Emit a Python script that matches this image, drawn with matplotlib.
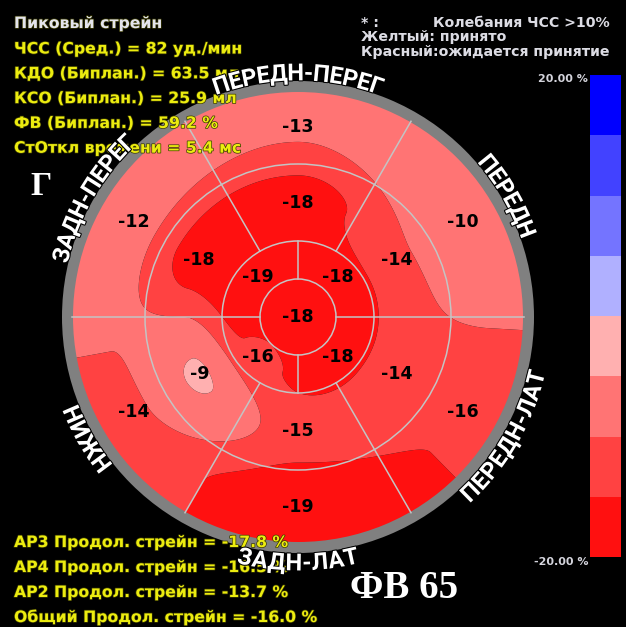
import numpy as np
import matplotlib.pyplot as plt
import matplotlib.patheffects as pe
from matplotlib.patches import Circle, Wedge
from matplotlib.colors import ListedColormap, BoundaryNorm
from matplotlib.cm import ScalarMappable
from matplotlib.font_manager import FontProperties
from matplotlib.textpath import TextToPath

# peak longitudinal strain per segment, %
seg_angles = [90, 30, -30, -90, 210, 150]
basal_vals = [-13, -10, -16, -19, -14, -12]
mid_vals = [-18, -14, -14, -15, -9, -18]
apical_angles = [45, 135, 225, 315]
apical_vals = [-18, -19, -16, -18]
apex_val = -18
wall_names = ["ПЕРЕДН-ПЕРЕГ", "ПЕРЕДН", "ПЕРЕДН-ЛАТ", "ЗАДН-ЛАТ", "НИЖН", "ЗАДН-ПЕРЕГ"]

title = "Пиковый стрейн"
info_lines = ["ЧСС (Сред.) = 82 уд./мин",
              "КДО (Биплан.) = 63.5 мл",
              "КСО (Биплан.) = 25.9 мл",
              "ФВ (Биплан.) = 59.2 %",
              "СтОткл времени = 5.4 мс"]
note_lines = [("* :", "Колебания ЧСС >10%"), ("Желтый: принято", ""), ("Красный:ожидается принятие", "")]
views = ["АР3", "АР4", "АР2"]
view_strain = [-17.8, -16.5, -13.7]
global_strain = -16.0

scale_bounds = [-20, -15, -10, -5, 0, 5, 10, 15, 20]
scale_colors = ["#ff1010", "#ff4242", "#ff7474", "#ffb0b0",
                "#b0b0ff", "#7474ff", "#4242ff", "#0000ff"]
fill_bounds = [-100, -16.5, -13.5, -9.5, 0, 100]

W, H = 626, 627
cx, cy = 298, 317
R_APEX, R_APICAL, R_MID, R_FIELD = 38, 76, 153, 226

fig = plt.figure(figsize=(W / 100, H / 100), dpi=100, facecolor="black")
ax = fig.add_axes([0, 0, 1, 1])
ax.set_xlim(0, W)
ax.set_ylim(H, 0)
ax.axis("off")


def polar(r, ang):
    a = np.radians(ang)
    return cx + r * np.cos(a), cy - r * np.sin(a)


def smooth(t):
    t = np.clip(t, 0, 1)
    return t * t * (3 - 2 * t)


def ring_profile(theta, angles, vals):
    # periodic smooth blend between neighbouring segment centres
    order = np.argsort(np.mod(angles, 360))
    a = np.mod(np.array(angles, float), 360)[order]
    v = np.array(vals, float)[order]
    a = np.concatenate([a[-1:] - 360, a, a[:1] + 360])
    v = np.concatenate([v[-1:], v, v[:1]])
    th = np.mod(theta, 360)
    idx = np.searchsorted(a, th) - 1
    idx = np.clip(idx, 0, len(a) - 2)
    t = (th - a[idx]) / (a[idx + 1] - a[idx])
    return v[idx] + (v[idx + 1] - v[idx]) * smooth(t)


# strain map on a polar-aware grid
g = np.linspace(-230, 230, 700)
GX, GY = np.meshgrid(g, g)
RR = np.hypot(GX, GY)
TH = np.degrees(np.arctan2(GY, GX))
ring_r = [0, 57, 114, 190]
profiles = [np.full_like(RR, apex_val),
            ring_profile(TH, apical_angles, apical_vals),
            ring_profile(TH, seg_angles, mid_vals),
            ring_profile(TH, seg_angles, basal_vals)]
Z = profiles[-1].copy()
for k in range(len(ring_r) - 1):
    inside = (RR >= ring_r[k]) & (RR < ring_r[k + 1])
    t = smooth((RR - ring_r[k]) / (ring_r[k + 1] - ring_r[k]))
    Z[inside] = (profiles[k] + (profiles[k + 1] - profiles[k]) * t)[inside]
Z = np.ma.masked_where(RR > 229, Z)
ax.contourf(cx + GX, cy - GY, Z, levels=fill_bounds, colors=scale_colors[:5], antialiased=True)

# segment grid
line_kw = dict(color="#c4c4c4", lw=1.1)
for r in (R_APEX, R_APICAL, R_MID):
    ax.add_patch(Circle((cx, cy), r, fill=False, ec="#c4c4c4", lw=1.1))
for ang in range(0, 360, 60):
    x0, y0 = polar(R_APICAL, ang)
    x1, y1 = polar(R_FIELD, ang)
    ax.plot([x0, x1], [y0, y1], **line_kw)
for ang in range(0, 360, 90):
    x0, y0 = polar(R_APEX, ang)
    x1, y1 = polar(R_APICAL, ang)
    ax.plot([x0, x1], [y0, y1], **line_kw)
ax.add_patch(Wedge((cx, cy), 236, 0, 360, width=11, fc="#808080", ec="none"))

# segment values
num_kw = dict(ha="center", va="center", fontsize=12.5, fontweight="bold", color="black")
for ang, v in zip(seg_angles, basal_vals):
    ax.text(*polar(190, ang), f"{v}", **num_kw)
for ang, v in zip(seg_angles, mid_vals):
    ax.text(*polar(114, ang), f"{v}", **num_kw)
for ang, v in zip(apical_angles, apical_vals):
    ax.text(*polar(57, ang), f"{v}", **num_kw)
ax.text(cx, cy, f"{apex_val}", **num_kw)

# text blocks
yellow = "#ecec10"
glow = [pe.withStroke(linewidth=1.0, foreground="#3a3a00")]
txt_kw = dict(fontsize=11.3, fontweight="bold", va="baseline", ha="left", path_effects=glow)
ax.text(14, 28, title, color="#e4e4ec", **txt_kw)
for i, s in enumerate(info_lines):
    ax.text(14, 53.5 + i * 24.8, s, color=yellow, **txt_kw)

for i, s in enumerate(views):
    ax.text(14, 547 + i * 25, f"{s} Продол. стрейн = {view_strain[i]:.1f} %", color=yellow, **txt_kw)
ax.text(14, 622, f"Общий Продол. стрейн = {global_strain:.1f} %", color=yellow, **txt_kw)

note_kw = dict(fontsize=10.2, fontweight="bold", va="baseline", ha="left", color="#dcdce4")
for i, (a, b) in enumerate(note_lines):
    ax.text(361, 27 + i * 14.3, a, **note_kw)
    if b:
        ax.text(433, 27 + i * 14.3, b, **note_kw)

# wall names bent along the rim
wall_font = FontProperties(family="Roboto", weight="bold", size=17)
ttp = TextToPath()
px = 100 / 72


def arc_label(name, ang, r_mid, outward):
    ext = [0.0] + [ttp.get_text_width_height_descent(name[:i], wall_font, False)[0] * px
                   for i in range(1, len(name) + 1)]
    total = ext[-1]
    cap = 0.711 * 17 * px
    r_base = r_mid - cap / 2 if outward else r_mid + cap / 2
    for i, ch in enumerate(name):
        s = (ext[i] + ext[i + 1]) / 2 - total / 2
        dth = np.degrees(s / r_mid)
        th = ang - dth if outward else ang + dth
        rot = th - 90 if outward else th + 90
        ax.text(*polar(r_base, th), ch, fontproperties=wall_font, color="white",
                ha="center", va="baseline", rotation=rot, rotation_mode="anchor",
                path_effects=[pe.withStroke(linewidth=1.5, foreground="black")])


for name, ang in zip(wall_names, seg_angles):
    arc_label(name, ang, 245, np.sin(np.radians(ang)) > 0)

# big serif marks
ax.text(30, 195, "Г", fontsize=24, fontweight="bold", family="Liberation Serif",
        color="white", ha="left", va="baseline")
ax.text(350, 598, "ФВ 65", fontsize=28, fontweight="bold", family="Liberation Serif",
        color="white", ha="left", va="baseline")

# colour scale
cax = fig.add_axes([590 / W, 1 - 557 / H, 31 / W, 482 / H])
sm = ScalarMappable(norm=BoundaryNorm(scale_bounds, len(scale_colors)), cmap=ListedColormap(scale_colors))
cb = fig.colorbar(sm, cax=cax)
cb.outline.set_visible(False)
cb.set_ticks([])
lab_kw = dict(fontsize=8, fontweight="bold", color="#d4d4dc", ha="right", va="baseline")
ax.text(588, 82, f"{scale_bounds[-1]:.2f} %", **lab_kw)
ax.text(588, 565, f"{scale_bounds[0]:.2f} %", **lab_kw)

fig.savefig("out.png", dpi=100, facecolor="black")
